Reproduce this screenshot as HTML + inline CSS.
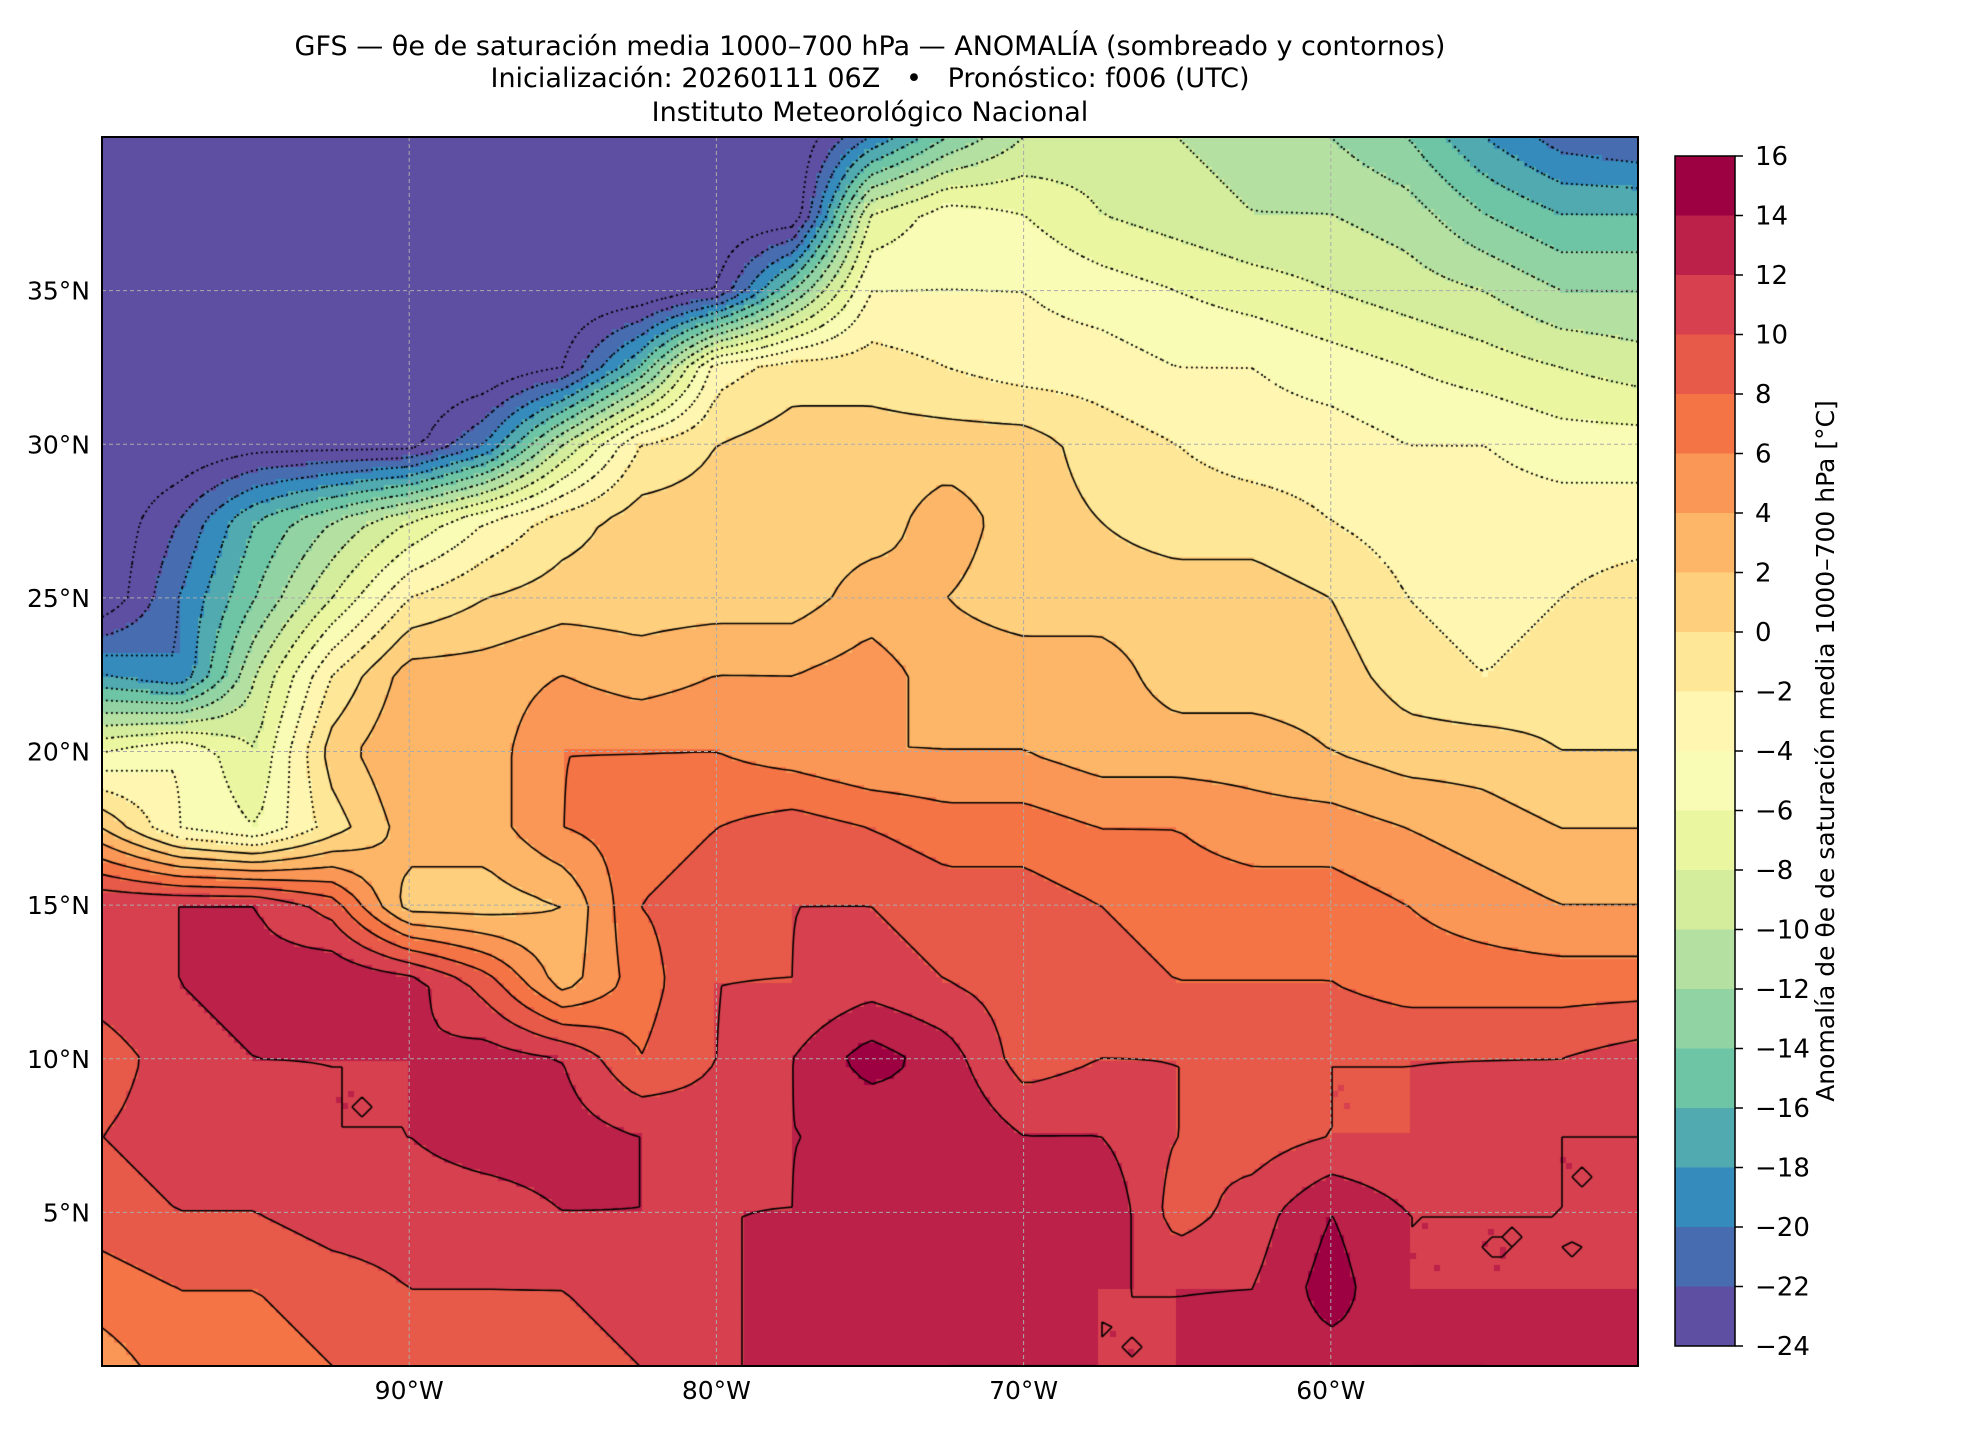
<!DOCTYPE html>
<html><head><meta charset="utf-8"><style>
body{margin:0;background:#fff;width:1980px;height:1440px;overflow:hidden;font-family:"Liberation Sans","DejaVu Sans",sans-serif}
</style></head><body>
<svg id="svg" width="1980" height="1440" xmlns="http://www.w3.org/2000/svg" style="position:absolute;left:0;top:0">
<g font-family="DejaVu Sans, Liberation Sans, sans-serif" font-size="27" text-anchor="middle" fill="#000" style="white-space:pre">
<text x="870" y="55">GFS — θe de saturación media 1000–700 hPa — ANOMALÍA (sombreado y contornos)</text>
<text x="870" y="87">Inicialización: 20260111 06Z &#160;&#160;•&#160;&#160; Pronóstico: f006 (UTC)</text>
<text x="870" y="121">Instituto Meteorológico Nacional</text>
</g>
<foreignObject x="102" y="137" width="1536" height="1229"><canvas id="cv" width="1536" height="1229" xmlns="http://www.w3.org/1999/xhtml"></canvas></foreignObject>
<g id="grid"></g>
<rect x="102" y="137" width="1536" height="1229" fill="none" stroke="#000" stroke-width="2"/>
<g id="axes" font-family="DejaVu Sans, Liberation Sans, sans-serif" font-size="25"></g>
<g id="cbar"></g>
<text transform="translate(1834,751) rotate(-90)" font-family="DejaVu Sans, Liberation Sans, sans-serif" font-size="25" text-anchor="middle">Anomalía de θe de saturación media 1000–700 hPa [°C]</text>
</svg>
<script>
const lons=[-100,-97.5,-95,-92.5,-90,-87.5,-85,-82.5,-80,-77.5,-75,-72.5,-70,-67.5,-65,-62.5,-60,-57.5,-55,-52.5,-50];
const lats=[40,37.5,35,32.5,30,27.5,25,22.5,20,17.5,15,12.5,10,7.5,5,2.5,0];
const anom=[
[-26,-26,-26,-26,-26,-26,-26,-26,-26,-26,-20,-14,-10,-9,-10,-11,-12,-14,-18,-21,-22],
[-26,-26,-26,-26,-26,-26,-26,-26,-26,-26,-8,-5,-6,-8,-9,-10,-10,-11,-14,-16,-16],
[-26,-26,-26,-26,-26,-26,-26,-26,-24,-14,-4,-4,-4,-5,-6,-7,-8,-9,-10,-12,-12],
[-26,-26,-26,-26,-26,-26,-24,-16,-3,-1,-1,-2,-3,-3,-4,-4,-5,-6,-7,-8,-9],
[-26,-26,-25,-25,-25,-20,-10,-2,0,1,1,1,1,-1,-2,-3,-3,-4,-4,-5,-5],
[-26,-22,-16,-12,-8,-4,-1,1,1,1,1,3,1,0,-1,-1,-2,-3,-3,-3,-3],
[-26,-20,-14,-8,-2,0,1,1,1,1,3,2,1,1,1,1,0,-2,-3,-2,-1],
[-18,-20,-10,-2,3,3,4,3,4,4,5,3,3,3,1,1,1,-1,-2,-1,-1],
[-6,-4,-8,1,4,3,6,6,6,5,4,4,4,3,3,3,2,1,1,0,0],
[2,-4,-6,-1,3,3,6,7,8,9,8,7,7,6,6,5,5,4,3,2,2],
[12,12,12,9,1,1,2,8,9,10,10,9,9,8,7,7,7,6,5,4,4],
[11,12,13,14,13,9,3,7,10,10,11,10,9,9,8,8,8,7,7,7,7],
[9,11,12,12,12,13,12,8,10,12,15,13,9,10,10,10,10,10,10,10,11],
[10,11,11,12,12,13,13,12,11,12,12,14,12,12,10,9,10,10,11,12,12],
[9,10,10,11,11,11,12,12,12,12,13,14,14,14,9,11,14,12,12,12,12],
[7,8,8,9,10,10,10,11,11,14,14,14,13,12,12,12,15,12,12,12,12],
[5,7,7,8,9,9,9,10,11,14,13,12,12,12,12,13,13,14,14,13,13]];
const levels=[];for(let v=-24;v<=16;v+=2)levels.push(v);
const cbTicks=[16,14,12,10,8,6,4,2,0,-2,-4,-6,-8,-10,-12,-14,-16,-18,-20,-22,-24];
const latTicks=[35,30,25,20,15,10,5];
const lonTicks=[-90,-80,-70,-60];

const MX=102,MY=137,MW=1536,MH=1229;
const xS=l=>MX+(l+100)/50*MW, yS=p=>MY+(40-p)/40*MH;
const anchors=["#9e0142","#d53e4f","#f46d43","#fdae61","#fee08b","#ffffbf","#e6f598","#abdda4","#66c2a5","#3288bd","#5e4fa2"];
function hex(h){return [1,3,5].map(i=>parseInt(h.substr(i,2),16));}
function spec(t){const f=t*10,i=Math.min(9,Math.floor(f)),r=f-i;const a=hex(anchors[i]),b=hex(anchors[i+1]);return `rgb(${a.map((v,k)=>Math.round(v+(b[k]-v)*r)).join(',')})`;}
function binColor(v){let i=Math.floor((16-v)/2);i=Math.max(0,Math.min(19,i));return spec(i/19);}
function field(lon,lat){
 let fi=(lon+100)/2.5, fj=(40-lat)/2.5;
 let i=Math.max(0,Math.min(19,Math.floor(fi))), j=Math.max(0,Math.min(15,Math.floor(fj)));
 let u=fi-i,w=fj-j;
 return anom[j][i]*(1-u)*(1-w)+anom[j][i+1]*u*(1-w)+anom[j+1][i]*(1-u)*w+anom[j+1][i+1]*u*w;}
const cv=document.getElementById('cv'),ctx=cv.getContext('2d');
const st=6;
for(let y=0;y<MH;y+=st)for(let x=0;x<MW;x+=st){
 const lon=-100+(x+st/2)/MW*50,lat=40-(y+st/2)/MH*40;
 ctx.fillStyle=binColor(field(lon,lat));ctx.fillRect(x,y,st,st);}
const g=10,nx=Math.ceil(MW/g)+1,ny=Math.ceil(MH/g)+1,F=[];
for(let j=0;j<ny;j++){F.push([]);for(let i=0;i<nx;i++)F[j].push(field(-100+i*g/MW*50,40-j*g/MH*40));}
ctx.strokeStyle='#000';
levels.forEach(L=>{
 ctx.lineWidth=L<0?2:1.6;
 ctx.setLineDash(L<0?[0.1,5]:[]);ctx.lineCap=L<0?'round':'butt';ctx.beginPath();
 for(let j=0;j<ny-1;j++)for(let i=0;i<nx-1;i++){
  const a=F[j][i],b=F[j][i+1],c=F[j+1][i+1],d=F[j+1][i];const pts=[];
  const e=(v1,v2,x1,y1,x2,y2)=>{if((v1<L)!==(v2<L)){const t=(L-v1)/(v2-v1);pts.push([x1+(x2-x1)*t,y1+(y2-y1)*t]);}};
  const x0=i*g,y0=j*g;
  e(a,b,x0,y0,x0+g,y0);e(b,c,x0+g,y0,x0+g,y0+g);e(d,c,x0,y0+g,x0+g,y0+g);e(a,d,x0,y0,x0,y0+g);
  for(let k=0;k+1<pts.length;k+=2){ctx.moveTo(pts[k][0],pts[k][1]);ctx.lineTo(pts[k+1][0],pts[k+1][1]);}
 }
 ctx.stroke();});
const NS='http://www.w3.org/2000/svg';
function mk(tag,at,parent,txt){const e=document.createElementNS(NS,tag);for(const k in at)e.setAttribute(k,at[k]);if(txt!==undefined)e.textContent=txt;parent.appendChild(e);return e;}
const grid=document.getElementById('grid'),axes=document.getElementById('axes'),cb=document.getElementById('cbar');
lonTicks.forEach(l=>{
 const x=xS(l);
 const gl=mk('line',{x1:x,x2:x,y1:MY,y2:MY+MH,stroke:'#aaa','stroke-width':1,'stroke-dasharray':'4,3'},grid);
 
 
 const t=mk('text',{x:x,y:1399,'text-anchor':'middle'},axes,Math.abs(l)+'°W');
 
 
});
latTicks.forEach(p=>{
 const y=yS(p);
 const gl=mk('line',{x1:MX,x2:MX+MW,y1:y,y2:y,stroke:'#aaa','stroke-width':1,'stroke-dasharray':'4,3'},grid);
 
 
 const t=mk('text',{x:90,y:y+9,'text-anchor':'end'},axes,p+'°N');
 
 
});
const CX=1675,CW=60,CT=156,CB=1346,cy=v=>CT+(16-v)/40*(CB-CT);
for(let i=0;i<20;i++){
 const v=16-2*i;
 const r=mk('rect',{x:CX,y:cy(v),width:CW,height:cy(v-2)-cy(v)+0.5,fill:spec(i/19)},cb);
 
 
}
mk('rect',{x:CX,y:CT,width:CW,height:CB-CT,fill:'none',stroke:'#000','stroke-width':1.5},cb);
cbTicks.forEach(v=>{
 const y=cy(v);
 mk('line',{x1:CX+CW,x2:CX+CW+8,y1:y,y2:y,stroke:'#000','stroke-width':1.5},cb);
 const t=mk('text',{x:CX+CW+20,y:y+9,'font-size':26,'font-family':'DejaVu Sans, Liberation Sans, sans-serif'},cb,v<0?'−'+Math.abs(v):String(v));
 
 
});
</script>
</body></html>
